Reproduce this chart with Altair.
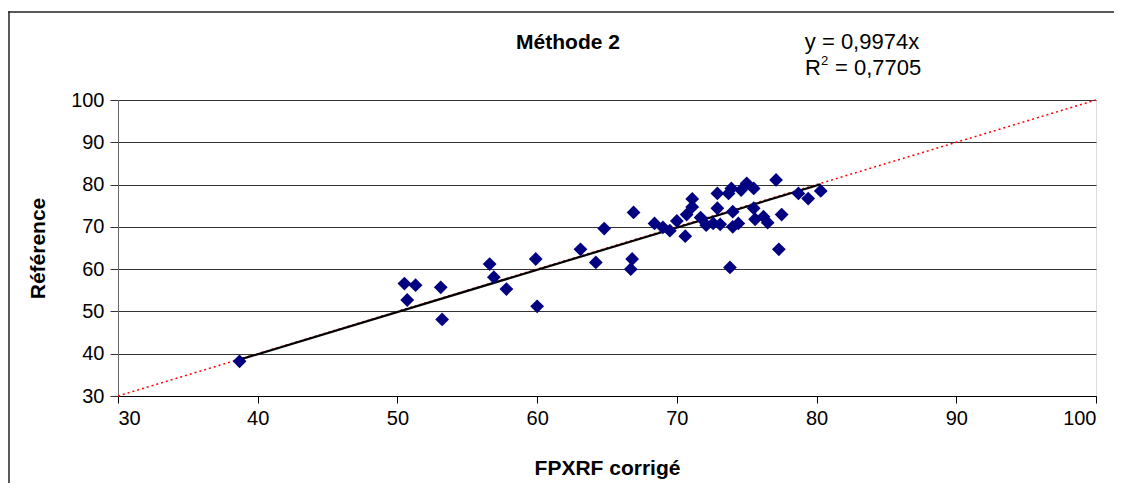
import altair as alt
import pandas as pd

# Data
fpxrf = [38.7, 50.5, 51.3, 50.7, 53.1, 53.2, 56.6, 56.9, 57.8, 59.9, 60.0,
         63.1, 64.2, 64.8, 66.7, 66.8, 66.9, 68.4, 69.0, 69.5, 70.0, 70.6,
         70.7, 71.1, 71.1, 71.7, 72.1, 72.6, 72.9, 72.9, 73.1, 73.7, 73.9,
         74.0, 74.0, 74.4, 74.6, 75.0, 75.5, 75.5, 75.6, 76.2, 76.5, 77.1,
         77.5, 77.3, 78.7, 79.4, 80.3, 73.8]
reference = [38.2, 56.6, 56.2, 52.7, 55.7, 48.1, 61.2, 58.1, 55.3, 62.4, 51.2,
             64.7, 61.6, 69.6, 60.0, 62.4, 73.4, 70.8, 69.9, 69.1, 71.4, 67.8,
             72.9, 76.6, 74.7, 72.2, 70.4, 70.8, 74.4, 77.9, 70.6, 77.9, 79.1,
             73.6, 70.0, 70.8, 78.7, 80.3, 79.1, 74.4, 71.8, 72.4, 71.0, 81.1,
             72.9, 64.7, 77.9, 76.7, 78.5, 60.4]
slope = 0.9974
r2 = 0.7705
x_ticks = [30, 40, 50, 60, 70, 80, 90, 100]
y_ticks = [30, 40, 50, 60, 70, 80, 90, 100]

points = pd.DataFrame({"x": fpxrf, "y": reference})
xmin, xmax = min(fpxrf), max(fpxrf)
trend = pd.DataFrame({"x": [xmin, xmax], "y": [slope * xmin, slope * xmax]})
ident = pd.DataFrame({"x": [30, 100], "y": [30, 100]})

FONT = "Liberation Sans"

xscale = alt.Scale(domain=[30, 100], nice=False, zero=False)
yscale = alt.Scale(domain=[30, 100], nice=False, zero=False)

xaxis = alt.Axis(values=x_ticks, title="FPXRF corrigé", grid=False,
                 domainColor="#000", tickColor="#000", tickSize=7,
                 labelPadding=5, labelFontSize=20, labelFont=FONT,
                 labelColor="#000", titleFont=FONT, titleFontSize=21,
                 titleFontWeight="bold", titleColor="#000",
                 titleX=489, titleY=72, titleAlign="center",
                 titleBaseline="middle")
yaxis = alt.Axis(values=y_ticks, title="Référence", grid=True,
                 gridColor="#333", gridWidth=1, domainColor="#666",
                 tickColor="#333", tickSize=8, labelPadding=6,
                 labelFontSize=20, labelFont=FONT, labelColor="#000",
                 titleFont=FONT, titleFontSize=21, titleFontWeight="bold",
                 titleColor="#000", titleX=-80, titleY=148, titleAngle=270,
                 titleAlign="center", titleBaseline="middle")

frame = pd.DataFrame({"a": [0]})
# outer chart frame (left and top edges), drawn as thin filled bars
border_left = alt.Chart(frame).mark_rect(color="#222", strokeWidth=0).encode(
    x=alt.value(-109.75), x2=alt.value(-108.25), y=alt.value(-88.75),
    y2=alt.value(390))
border_top = alt.Chart(frame).mark_rect(color="#222", strokeWidth=0).encode(
    x=alt.value(-109.75), x2=alt.value(1004), y=alt.value(-88.75),
    y2=alt.value(-87.25))

identity_line = alt.Chart(ident).mark_line(
    color="#ff0000", strokeWidth=1.5, strokeDash=[2, 3]
).encode(x=alt.X("x:Q", scale=xscale, axis=xaxis),
         y=alt.Y("y:Q", scale=yscale, axis=yaxis))

trend_line = alt.Chart(trend).mark_line(color="#000", strokeWidth=2.2).encode(
    x=alt.X("x:Q", scale=xscale), y=alt.Y("y:Q", scale=yscale))

scatter = alt.Chart(points).mark_point(
    shape="diamond", filled=True, color="#000080", size=190, opacity=1
).encode(x=alt.X("x:Q", scale=xscale), y=alt.Y("y:Q", scale=yscale))

texts = pd.DataFrame({
    "t": ["Méthode 2", f"y = {str(slope).replace('.', ',')}x",
          f"= {str(r2).replace('.', ',')}", "R", "2"],
})
title_txt = alt.Chart(texts.iloc[[0]]).mark_text(
    font=FONT, fontSize=21, fontWeight="bold", color="#000", align="center",
    baseline="alphabetic"
).encode(text="t:N", x=alt.value(450), y=alt.value(-51))
eq_txt = alt.Chart(texts.iloc[[1]]).mark_text(
    font=FONT, fontSize=22, color="#000", align="center", baseline="alphabetic"
).encode(text="t:N", x=alt.value(744), y=alt.value(-51))
r2_txt = alt.Chart(texts.iloc[[2]]).mark_text(
    font=FONT, fontSize=22, color="#000", align="left", baseline="alphabetic"
).encode(text="t:N", x=alt.value(717), y=alt.value(-25))
r_txt = alt.Chart(texts.iloc[[3]]).mark_text(
    font=FONT, fontSize=22, color="#000", align="left", baseline="alphabetic"
).encode(text="t:N", x=alt.value(687), y=alt.value(-25))
sup_txt = alt.Chart(texts.iloc[[4]]).mark_text(
    font=FONT, fontSize=13, color="#000", align="left", baseline="alphabetic"
).encode(text="t:N", x=alt.value(703), y=alt.value(-35))

chart = alt.layer(border_left, border_top, identity_line, trend_line, scatter,
                  title_txt, eq_txt, r_txt, sup_txt, r2_txt).properties(
    width=978, height=296,
    autosize=alt.AutoSizeParams(type="none"),
    padding={"left": 110, "top": 92, "right": 18, "bottom": 87},
).configure_view(stroke=None).configure(background="white")

chart.save("out.html", embed_options={"renderer": "svg", "actions": False})
